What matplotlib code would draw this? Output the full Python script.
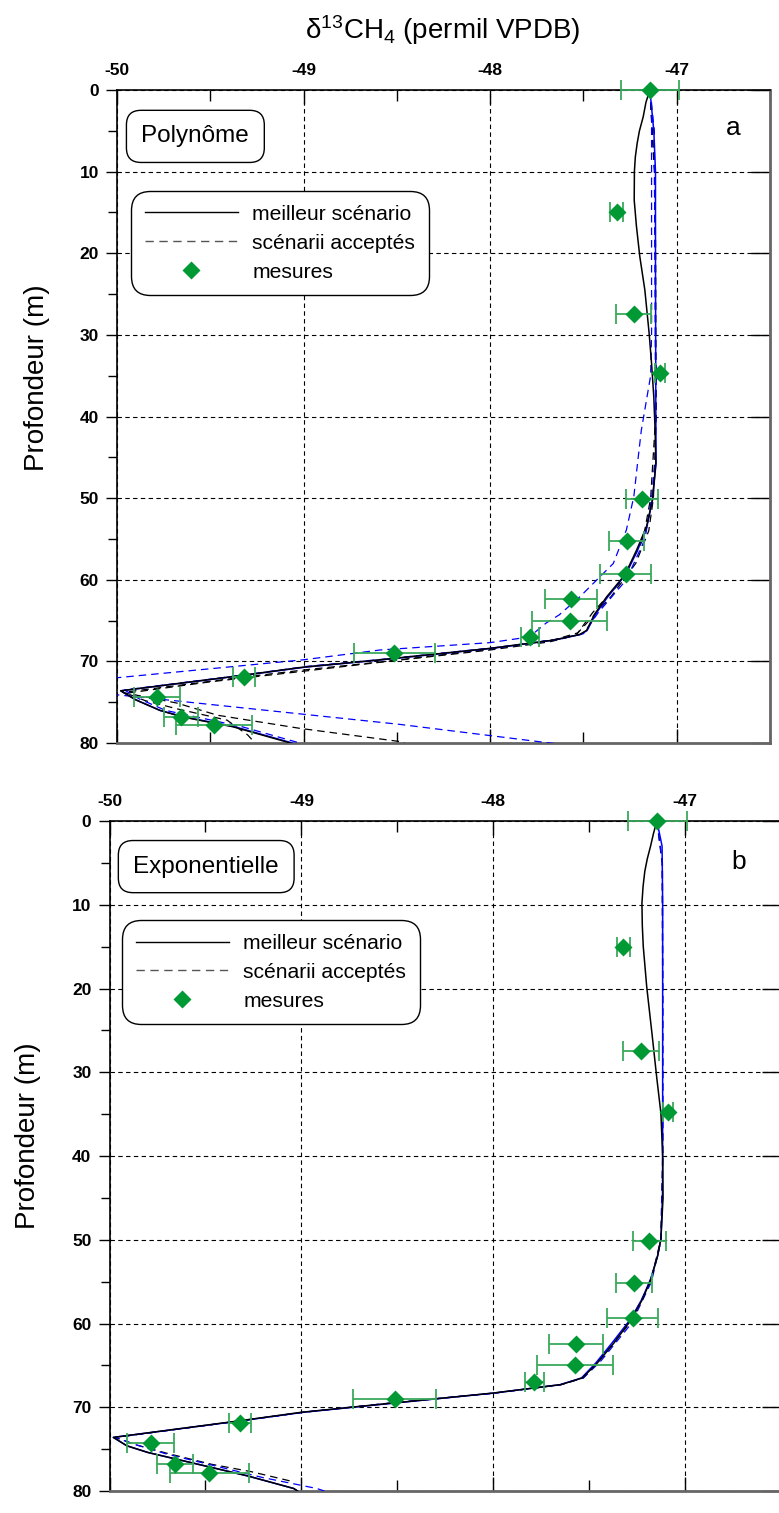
import numpy as np
import matplotlib
matplotlib.use("Agg")
from matplotlib import pyplot as plt
from matplotlib.lines import Line2D
from matplotlib.ticker import MultipleLocator

plt.rcParams['font.family'] = ['Liberation Sans', 'DejaVu Sans']
plt.rcParams['mathtext.fontset'] = 'custom'
plt.rcParams['mathtext.rm'] = 'Liberation Sans'
plt.rcParams['mathtext.it'] = 'Liberation Sans'
plt.rcParams['axes.unicode_minus'] = False

# measurements (same in both panels)
meas_x = [-47.144, -47.322, -47.23, -47.09, -47.186, -47.267, -47.274, -47.567,
          -47.574, -47.786, -48.513, -49.321, -49.786, -49.658, -49.48]
meas_d = [0.0, 15.0, 27.5, 34.7, 50.1, 55.2, 59.3, 62.4, 65.0, 67.0, 69.0,
          71.9, 74.3, 76.8, 77.8]
meas_err = [0.155, 0.035, 0.094, 0.027, 0.085, 0.094, 0.135, 0.141, 0.20,
            0.05, 0.216, 0.058, 0.123, 0.092, 0.205]

# panel a : polynome
best_a_d = [0, 1.5, 3.3, 5, 6.5, 8.2, 10, 13.5, 16.7, 20.4, 24.5, 29.8, 33.5, 37.6,
            41.7, 45.7, 50.2, 53.5, 56.4, 59.4, 62.1, 64.2, 66.2, 66.7, 67.4, 68.4,
            69.8, 70.7, 71.7, 73.6, 74.7, 76.0, 76.8, 78.0, 80.0]
best_a_x = [-47.144, -47.165, -47.18, -47.2, -47.212, -47.222, -47.227, -47.228,
            -47.216, -47.198, -47.171, -47.148, -47.135, -47.123, -47.116, -47.112,
            -47.13, -47.162, -47.216, -47.278, -47.376, -47.44, -47.483, -47.52,
            -47.663, -48.0, -48.588, -49.0, -49.326, -49.98, -49.90, -49.77, -49.65,
            -49.38, -49.07]
blue_a_d = [0, 5, 10, 20, 30, 40, 45.7, 50.2, 53.5, 56.4, 59.4, 62.1, 64.2, 66.2,
            66.7, 67.4, 68.4, 69.8, 70.7, 71.7, 73.6, 74.7, 76.0, 76.8, 78.0, 80.0]
blue_a_x = [-47.144, -47.123, -47.114, -47.114, -47.113, -47.112, -47.111, -47.13,
            -47.16, -47.21, -47.275, -47.37, -47.435, -47.48, -47.515, -47.66,
            -47.99, -48.58, -48.99, -49.32, -49.98, -49.90, -49.77, -49.64,
            -49.37, -49.06]
acc_a1_d = [0, 10, 20, 30, 40, 50, 54, 58, 62, 64.5, 66.5, 67.3, 68.5, 70, 71, 72,
            73.8, 75.1, 76.6, 78.2, 79.8, 80]
acc_a1_x = [-47.144, -47.118, -47.113, -47.112, -47.11, -47.125, -47.15, -47.22,
            -47.35, -47.45, -47.53, -47.65, -48.0, -48.56, -48.98, -49.35, -49.97,
            -49.68, -49.46, -49.02, -48.49, -48.46]
acc_a2_d = [0, 10, 25, 40, 50, 55, 60, 64, 66.8, 67.6, 68.6, 70, 71.2, 72.5, 73.9,
            74.8, 75.8, 77.2, 79.0, 80]
acc_a2_x = [-47.144, -47.12, -47.115, -47.113, -47.14, -47.18, -47.29, -47.45,
            -47.54, -47.68, -48.0, -48.55, -49.0, -49.5, -49.95, -49.85, -49.68,
            -49.41, -49.30, -49.26]
acc_a3_d = [0, 10, 20, 30, 35, 41.7, 45.7, 49.8, 53.9, 58.0, 62.1, 64.3, 65.3, 67.0,
            67.7, 68.6, 69.8, 72.0, 73.4, 74.6, 77.7, 79.8, 80.5]
acc_a3_x = [-47.135, -47.135, -47.135, -47.135, -47.14, -47.19, -47.21, -47.23,
            -47.27, -47.34, -47.52, -47.63, -47.70, -47.79, -48.0, -48.59, -49.0,
            -50.0, -50.3, -49.78, -48.49, -47.75, -47.5]
acc_a4_d = [0, 5, 20, 35, 45, 50, 55, 60, 64, 66.6, 67.3, 68.3, 69.7, 70.6, 71.6,
            73.5, 74.6, 76.0, 78.0, 80.0]
acc_a4_x = [-47.144, -47.12, -47.116, -47.114, -47.115, -47.135, -47.17, -47.27,
            -47.42, -47.50, -47.64, -47.97, -48.56, -48.98, -49.3, -49.96, -49.88,
            -49.74, -49.33, -49.02]

# panel b : exponentielle
best_b_d = [0, 1.5, 3, 4.5, 6, 7.8, 9.8, 12.5, 15, 19.8, 25.3, 30.8, 34.9, 40.1, 45,
            49.9, 51.9, 54.7, 57.1, 59.5, 62.3, 64.7, 66.5, 67.3, 68.3, 69.65, 70.6,
            71.6, 73.6, 74.6, 75.4, 76.8, 78.2, 79.7, 80]
best_b_x = [-47.147, -47.165, -47.18, -47.197, -47.21, -47.219, -47.225, -47.223,
            -47.218, -47.20, -47.173, -47.147, -47.126, -47.117, -47.115, -47.126,
            -47.143, -47.178, -47.222, -47.28, -47.37, -47.457, -47.536, -47.649,
            -47.998, -48.59, -49.0, -49.317, -49.98, -49.91, -49.80, -49.54, -49.28,
            -49.04, -49.02]
blue_b_d = [0, 3, 10, 20, 30, 40, 45, 49.9, 51.9, 54.7, 57.1, 59.5, 62.3, 64.7, 66.5,
            67.3, 68.3, 69.65, 70.6, 71.6, 73.6, 74.6, 75.4, 76.8, 78.2, 79.7, 80]
blue_b_x = [-47.147, -47.12, -47.117, -47.117, -47.117, -47.117, -47.118, -47.126,
            -47.143, -47.18, -47.225, -47.285, -47.38, -47.465, -47.54, -47.65,
            -47.995, -48.58, -48.99, -49.31, -49.98, -49.91, -49.80, -49.54, -49.28,
            -49.04, -49.02]
acc_b1_d = [0, 5, 20, 40, 50, 55, 60, 64.5, 66.5, 67.3, 68.3, 69.6, 70.6, 71.6, 73.6,
            74.5, 75.5, 76.8, 77.7, 78.9]
acc_b1_x = [-47.147, -47.12, -47.117, -47.117, -47.127, -47.18, -47.29, -47.45,
            -47.53, -47.645, -47.99, -48.58, -48.99, -49.31, -49.97, -49.86, -49.70,
            -49.47, -49.26, -49.04]
acc_b2_d = [0, 5, 20, 40, 50, 55, 60, 64.5, 66.5, 67.3, 68.3, 69.6, 70.6, 71.6, 73.6,
            74.5, 75.6, 77.0, 78.4, 79.7, 80]
acc_b2_x = [-47.147, -47.118, -47.116, -47.116, -47.125, -47.175, -47.28, -47.44,
            -47.53, -47.65, -47.99, -48.58, -48.99, -49.31, -49.97, -49.86, -49.70,
            -49.45, -49.20, -48.92, -48.88]

fig = plt.figure(figsize=(7.79, 15.13), dpi=100)
ax_a = fig.add_axes([0.1502, 0.5089, 0.8383, 0.4316])
ax_b = fig.add_axes([0.1406, 0.01454, 0.862, 0.4428])

green = '#009933'
ebar = '#3aa85c'


def style_axis(ax):
    ax.set_xlim(-50, -46.5)
    ax.set_ylim(80, 0)
    ax.xaxis.set_major_locator(MultipleLocator(1))
    ax.xaxis.set_minor_locator(MultipleLocator(0.5))
    ax.yaxis.set_major_locator(MultipleLocator(10))
    ax.yaxis.set_minor_locator(MultipleLocator(5))
    ax.xaxis.tick_top()
    ax.tick_params(axis='x', which='major', top=True, bottom=True, direction='in',
                   length=10, width=1, pad=9, labelsize=12.5)
    ax.tick_params(axis='x', which='minor', top=True, bottom=True, direction='in',
                   length=8, width=1)
    ax.tick_params(axis='y', which='major', left=True, right=True, direction='out',
                   length=8, width=1, pad=5, labelsize=12.5)
    ax.tick_params(axis='y', which='minor', left=True, right=False, direction='out',
                   length=6.5, width=1)
    for lab in ax.get_xticklabels() + ax.get_yticklabels():
        lab.set_fontweight('bold')
    ax.grid(True, which='major', color='black', linestyle=(0, (4, 3)), linewidth=0.8)
    for s in ['left', 'top']:
        ax.spines[s].set_linewidth(1.2)
    for s in ['bottom', 'right']:
        ax.spines[s].set_linewidth(2)
        ax.spines[s].set_color('#666666')
    ax.set_ylabel('Profondeur (m)', fontsize=20)


def draw_right_ticks(ax):
    # inward major ticks on the right side
    for t in ax.yaxis.get_major_ticks():
        t.tick2line.set_marker(0)
        t.tick2line.set_markersize(14)


def draw_panel(ax, curves_dash_black, curves_dash_blue, blue, best):
    for d, x in curves_dash_black:
        ax.plot(x, d, color='black', lw=0.9, ls=(0, (6, 4)), zorder=3)
    for d, x in curves_dash_blue:
        ax.plot(x, d, color='blue', lw=0.9, ls=(0, (6, 4)), zorder=3)
    ax.plot(blue[1], blue[0], color='blue', lw=1.1, zorder=4)
    ax.plot(best[1], best[0], color='black', lw=1.1, zorder=4)
    ax.errorbar(meas_x, meas_d, xerr=meas_err, fmt='none', ecolor=ebar,
                elinewidth=1.3, capsize=7.5, capthick=1.3, zorder=5, clip_on=False)
    ax.plot(meas_x, meas_d, 'D', color=green, ms=9.5, mec='none', zorder=6,
            clip_on=False)


style_axis(ax_a)
style_axis(ax_b)
draw_right_ticks(ax_a)
draw_right_ticks(ax_b)

draw_panel(ax_a, [(acc_a1_d, acc_a1_x), (acc_a2_d, acc_a2_x)],
           [(acc_a3_d, acc_a3_x), (acc_a4_d, acc_a4_x)],
           (blue_a_d, blue_a_x), (best_a_d, best_a_x))
draw_panel(ax_b, [(acc_b1_d, acc_b1_x)], [(acc_b2_d, acc_b2_x)],
           (blue_b_d, blue_b_x), (best_b_d, best_b_x))

ax_a.yaxis.set_label_coords(-0.1026, 0.559)
ax_b.yaxis.set_label_coords(-0.102, 0.531)

box = dict(boxstyle='round,pad=0.62,rounding_size=0.6', fc='white', ec='black', lw=1)
ax_a.text(0.120, 0.929, 'Polynôme', transform=ax_a.transAxes, fontsize=17.5,
          ha='center', va='center', bbox=box, zorder=10)
ax_b.text(0.144, 0.932, 'Exponentielle', transform=ax_b.transAxes, fontsize=17.5,
          ha='center', va='center', bbox=box, zorder=10)
ax_a.text(0.943, 0.942, 'a', transform=ax_a.transAxes, fontsize=19,
          ha='center', va='center')
ax_b.text(0.9366, 0.939, 'b', transform=ax_b.transAxes, fontsize=19,
          ha='center', va='center')

handles = [Line2D([], [], color='black', lw=1),
           Line2D([], [], color='#555555', lw=1, ls=(0, (6, 4))),
           Line2D([], [], color=green, marker='D', ms=9.5, ls='none', mec='none')]
labels = ['meilleur scénario', 'scénarii acceptés', 'mesures']
for ax, anchor in [(ax_a, (0.0214, 0.8453)), (ax_b, (0.0187, 0.852))]:
    leg = ax.legend(handles, labels, loc='upper left', bbox_to_anchor=anchor,
                    fontsize=15.2, handlelength=4.4, handletextpad=0.7,
                    labelspacing=0.47, borderpad=0.65, borderaxespad=0,
                    frameon=True, fancybox=True, framealpha=1, edgecolor='black')
    leg.get_frame().set_boxstyle('round', pad=0, rounding_size=0.9)
    leg.get_frame().set_linewidth(1)
    leg.set_zorder(10)

fig.text(0.5687, 0.980, r'δ$^{13}$CH$_4$ (permil VPDB)', fontsize=20,
         ha='center', va='center')

fig.savefig('out.png', dpi=100)
